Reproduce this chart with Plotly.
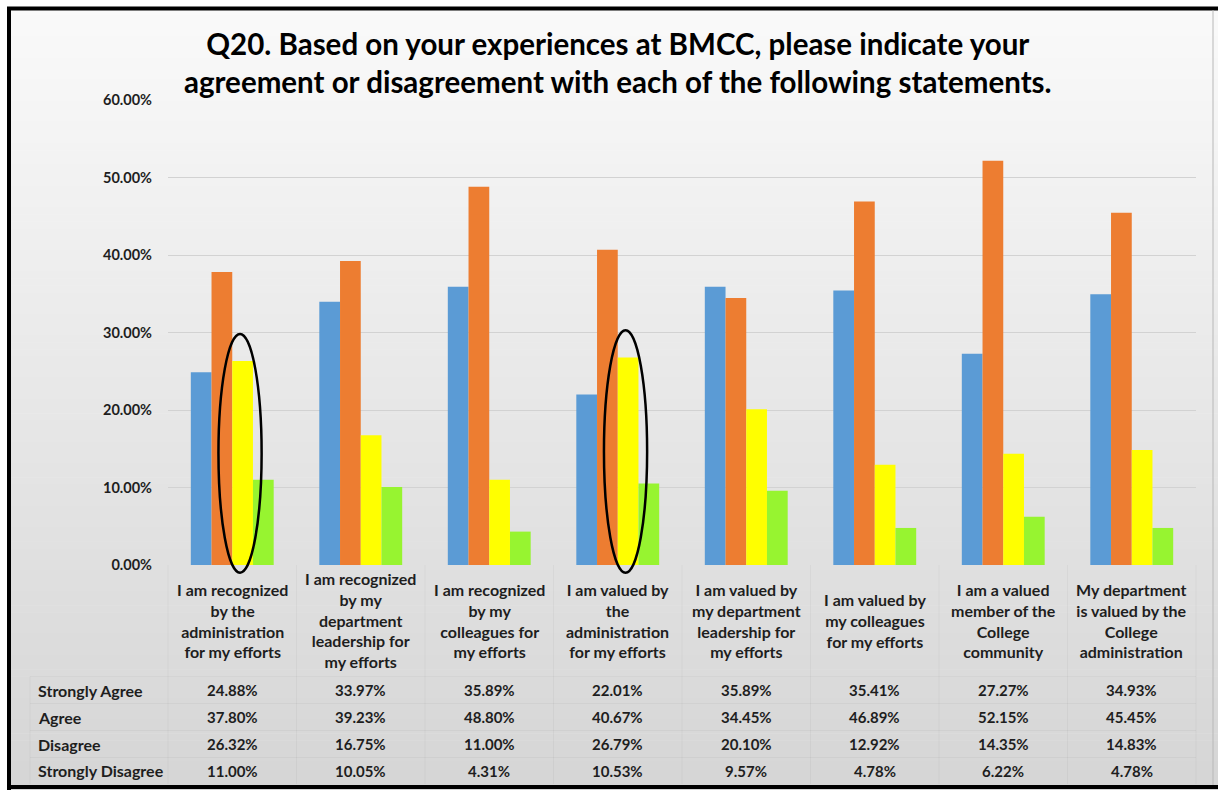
import plotly.graph_objects as go

# ---- data -------------------------------------------------------------
categories = [
    "I am recognized by the administration for my efforts",
    "I am recognized by my department leadership for my efforts",
    "I am recognized by my colleagues for my efforts",
    "I am valued by the administration for my efforts",
    "I am valued by my department leadership for my efforts",
    "I am valued by my colleagues for my efforts",
    "I am a valued member of the College community",
    "My department is valued by the College administration",
]
category_labels = [
    "I am recognized<br>by the<br>administration<br>for my efforts",
    "I am recognized<br>by my<br>department<br>leadership for<br>my efforts",
    "I am recognized<br>by my<br>colleagues for<br>my efforts",
    "I am valued by<br>the<br>administration<br>for my efforts",
    "I am valued by<br>my department<br>leadership for<br>my efforts",
    "I am valued by<br>my colleagues<br>for my efforts",
    "I am a valued<br>member of the<br>College<br>community",
    "My department<br>is valued by the<br>College<br>administration",
]
series_names = ["Strongly Agree", "Agree", "Disagree", "Strongly Disagree"]
strongly_agree = [24.88, 33.97, 35.89, 22.01, 35.89, 35.41, 27.27, 34.93]
agree = [37.80, 39.23, 48.80, 40.67, 34.45, 46.89, 52.15, 45.45]
disagree = [26.32, 16.75, 11.00, 26.79, 20.10, 12.92, 14.35, 14.83]
strongly_disagree = [11.00, 10.05, 4.31, 10.53, 9.57, 4.78, 6.22, 4.78]
highlighted = [0, 3]  # groups whose Disagree bar is circled

title_lines = [
    "Q20. Based on your experiences at BMCC, please indicate your",
    "agreement or disagreement with each of the following statements.",
]

# ---- styling / geometry ----------------------------------------------
W, H = 1218, 790
L, R, T, B = 168, 22, 100, 225
PW, PH = W - L - R, H - T - B
Y_MAX = 60
BARGAP = 0.355
FONT = "Lato"
TXT = "#1e1e1e"
colors = ["#5B9BD5", "#ED7D31", "#FFFF00", "#97F430"]
series = [strongly_agree, agree, disagree, strongly_disagree]
n = len(categories)


def px_x(px):
    return (px - L) / PW


def px_y(py):
    return (H - B - py) / PH


def val_y(v):
    return v / Y_MAX


fig = go.Figure()
for name, vals, col in zip(series_names, series, colors):
    fig.add_trace(go.Bar(x=categories, y=vals, name=name, marker_color=col,
                         marker_line_width=0))

shapes = []

# gradient chart background inside the frame
top_c, bot_c = 250, 213
y_start, y_end = 8, H
steps = 110
for k in range(steps):
    ya = y_start + (y_end - y_start) * k / steps
    yb = y_start + (y_end - y_start) * (k + 1) / steps
    c = round(top_c + (bot_c - top_c) * (k + 0.5) / steps)
    shapes.append(dict(type="rect", xref="paper", yref="paper",
                       x0=px_x(8), x1=px_x(W), y0=px_y(ya), y1=px_y(yb + 0.6),
                       fillcolor=f"rgb({c},{c},{c})", line_width=0, layer="below"))

# data table grid lines
grid_col = "rgba(0,0,0,0.035)"
row_y = [690, 717, 744, 771]
for yl in [676.5, 703.5, 730.5, 757.5]:
    shapes.append(dict(type="line", xref="paper", yref="paper",
                       x0=px_x(30), x1=1.0, y0=px_y(yl), y1=px_y(yl),
                       line=dict(color=grid_col, width=1), layer="below"))
for k in range(n + 1):
    shapes.append(dict(type="line", xref="paper", yref="paper",
                       x0=k / n, x1=k / n, y0=0, y1=px_y(784),
                       line=dict(color=grid_col, width=1), layer="below"))
shapes.append(dict(type="line", xref="paper", yref="paper",
                   x0=px_x(30), x1=px_x(30), y0=px_y(676.5), y1=px_y(784),
                   line=dict(color=grid_col, width=1), layer="below"))

# ellipses around the circled Disagree bars
group_w = 1 - BARGAP
bar_w = group_w / 4
yellow_off = -group_w / 2 + bar_w * 2.5
for i in highlighted:
    cx = (i + 0.5 + yellow_off - 0.02) / n
    half = 0.168 / n
    shapes.append(dict(type="circle", xref="paper", yref="paper",
                       x0=cx - half, x1=cx + half,
                       y0=val_y(-1.0), y1=val_y(disagree[i] + 3.5),
                       line=dict(color="black", width=2.5), layer="above"))

# outer frame
shapes += [
    dict(type="line", xref="paper", yref="paper", x0=px_x(7), x1=px_x(W),
         y0=px_y(8.5), y1=px_y(8.5), line=dict(color="black", width=4), layer="above"),
    dict(type="line", xref="paper", yref="paper", x0=px_x(9), x1=px_x(9),
         y0=px_y(7), y1=px_y(H), line=dict(color="black", width=4), layer="above"),
    dict(type="line", xref="paper", yref="paper", x0=px_x(7), x1=px_x(W),
         y0=px_y(787), y1=px_y(787), line=dict(color="black", width=4), layer="above"),
    dict(type="line", xref="paper", yref="paper", x0=px_x(1213), x1=px_x(1213),
         y0=px_y(10), y1=px_y(785), line=dict(color="#b8b8b8", width=1), layer="above"),
]

annotations = []
# title
annotations.append(dict(text="<br>".join(title_lines), xref="paper", yref="paper",
                        x=px_x(618), y=px_y(63), xanchor="center", yanchor="middle",
                        showarrow=False, align="center",
                        font=dict(family=FONT, size=29.5, color="black", weight="bold")))
# category labels (vertically centred under each group)
for i, lab in enumerate(category_labels):
    annotations.append(dict(text=lab, xref="x", yref="paper", x=i, y=px_y(620),
                            xanchor="center", yanchor="middle", showarrow=False,
                            align="center",
                            font=dict(family=FONT, size=16, color=TXT, weight="bold")))
# data table
for r, (name, vals) in enumerate(zip(series_names, series)):
    annotations.append(dict(text=name, xref="paper", yref="paper", x=px_x(36),
                            y=px_y(row_y[r]), xanchor="left", yanchor="middle",
                            showarrow=False,
                            font=dict(family=FONT, size=16, color=TXT, weight="bold")))
    for i, v in enumerate(vals):
        annotations.append(dict(text=f"{v:.2f}%", xref="x", yref="paper", x=i,
                                y=px_y(row_y[r]), xanchor="center", yanchor="middle",
                                showarrow=False,
                                font=dict(family=FONT, size=15, color=TXT, weight="bold")))

fig.update_layout(
    width=W, height=H,
    margin=dict(l=L, r=R, t=T, b=B, pad=0),
    paper_bgcolor="white",
    plot_bgcolor="rgba(0,0,0,0)",
    barmode="group",
    bargap=BARGAP,
    bargroupgap=0,
    showlegend=False,
    shapes=shapes,
    annotations=annotations,
    xaxis=dict(type="category", showticklabels=False, showgrid=False,
               zeroline=False, showline=False, ticks=""),
    yaxis=dict(range=[0, Y_MAX], dtick=10, tickformat=".2f", ticksuffix="%",
               showgrid=True, gridcolor="#d2d2d2", gridwidth=1, zeroline=False,
               showline=False, ticks="", ticklabelstandoff=15,
               tickfont=dict(family=FONT, size=14.5, color=TXT, weight="bold")),
)

fig.write_html("out.html")
